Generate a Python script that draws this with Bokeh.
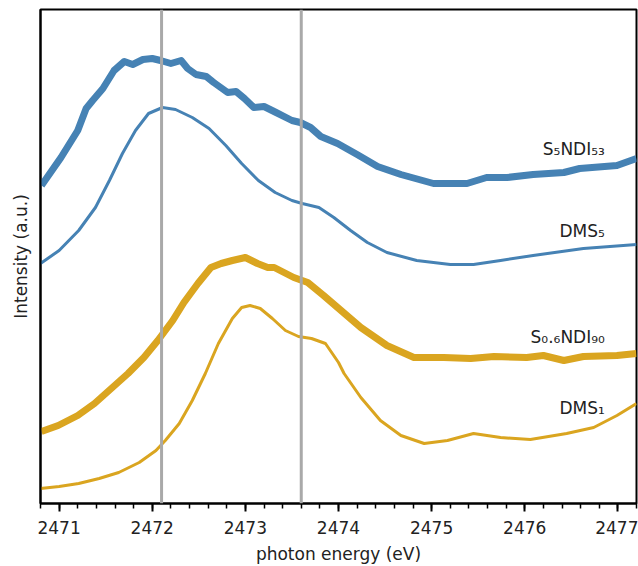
from bokeh.plotting import figure
from bokeh.models import Range1d, SingleIntervalTicker, Span, Label
from bokeh.embed import file_html
from bokeh.resources import INLINE

# photon energy (eV) and intensity (a.u., offset curves)
s5ndi53_x = [2470.81, 2471.02, 2471.20, 2471.29, 2471.36, 2471.47, 2471.59, 2471.70, 2471.79, 2471.90,
             2472.00, 2472.09, 2472.20, 2472.31, 2472.38, 2472.47, 2472.58, 2472.66, 2472.81, 2472.90,
             2472.99, 2473.09, 2473.20, 2473.33, 2473.50, 2473.59, 2473.70, 2473.81, 2473.99, 2474.20,
             2474.42, 2474.67, 2475.02, 2475.38, 2475.59, 2475.81, 2476.09, 2476.42, 2476.59, 2476.99, 2477.20]
s5ndi53_y = [3.18, 3.46, 3.73, 3.95, 4.03, 4.15, 4.33, 4.42, 4.39, 4.44,
             4.45, 4.43, 4.40, 4.43, 4.35, 4.29, 4.27, 4.21, 4.11, 4.12,
             4.05, 3.96, 3.97, 3.91, 3.83, 3.81, 3.76, 3.67, 3.60, 3.49,
             3.37, 3.29, 3.20, 3.20, 3.26, 3.26, 3.29, 3.31, 3.35, 3.38, 3.45]

dms5_x = [2470.80, 2471.00, 2471.21, 2471.39, 2471.54, 2471.68, 2471.82, 2471.96, 2472.11, 2472.25,
          2472.43, 2472.61, 2472.79, 2472.96, 2473.14, 2473.32, 2473.50, 2473.61, 2473.79, 2473.95,
          2474.13, 2474.31, 2474.52, 2474.84, 2475.20, 2475.45, 2475.74, 2476.09, 2476.63, 2477.20]
dms5_y = [2.40, 2.53, 2.73, 2.96, 3.23, 3.50, 3.73, 3.90, 3.96, 3.94,
          3.86, 3.75, 3.58, 3.40, 3.23, 3.11, 3.03, 3.00, 2.96, 2.86,
          2.73, 2.61, 2.51, 2.43, 2.39, 2.39, 2.43, 2.48, 2.55, 2.59]

s06ndi90_x = [2470.81, 2470.99, 2471.20, 2471.38, 2471.56, 2471.74, 2471.91, 2472.06, 2472.22, 2472.34,
              2472.49, 2472.63, 2472.74, 2472.86, 2473.00, 2473.13, 2473.24, 2473.31, 2473.52, 2473.67,
              2473.84, 2473.99, 2474.24, 2474.52, 2474.81, 2475.13, 2475.42, 2475.67, 2476.02, 2476.20,
              2476.42, 2476.63, 2476.99, 2477.20]
s06ndi90_y = [0.72, 0.78, 0.88, 1.00, 1.15, 1.30, 1.46, 1.63, 1.83, 2.01,
              2.20, 2.36, 2.40, 2.43, 2.46, 2.40, 2.36, 2.36, 2.26, 2.21,
              2.08, 1.96, 1.76, 1.58, 1.46, 1.46, 1.45, 1.47, 1.46, 1.48,
              1.43, 1.47, 1.48, 1.50]

dms1_x = [2470.80, 2471.00, 2471.21, 2471.43, 2471.64, 2471.86, 2472.04, 2472.14, 2472.29, 2472.43,
          2472.57, 2472.71, 2472.86, 2472.96, 2473.05, 2473.16, 2473.29, 2473.43, 2473.57, 2473.71,
          2473.86, 2474.00, 2474.06, 2474.24, 2474.45, 2474.67, 2474.92, 2475.17, 2475.45, 2475.74,
          2476.06, 2476.45, 2476.74, 2476.99, 2477.20]
dms1_y = [0.15, 0.17, 0.20, 0.25, 0.31, 0.41, 0.53, 0.63, 0.80, 1.03,
          1.30, 1.60, 1.85, 1.96, 1.98, 1.95, 1.85, 1.73, 1.67, 1.65,
          1.60, 1.41, 1.30, 1.06, 0.83, 0.68, 0.60, 0.63, 0.70, 0.66,
          0.64, 0.70, 0.76, 0.88, 1.00]

marker_energies = [2472.1, 2473.6]

label_texts = ["S\u2085NDI\u2085\u2083", "DMS\u2085", "S\u2080.\u2086NDI\u2089\u2080", "DMS\u2081"]
label_y = [3.55, 2.73, 1.67, 0.96]
label_x = 2476.86

BLUE = "#4682b4"
GOLD = "#daa520"
FONT = "DejaVu Sans"

p = figure(width=638, height=566, output_backend="svg", toolbar_location=None,
           x_range=Range1d(2470.8, 2477.2), y_range=Range1d(0, 4.94),
           min_border_left=40, min_border_top=9, min_border_right=2, min_border_bottom=63)

for e in marker_energies:
    p.add_layout(Span(location=e, dimension="height", line_color="#a9a9a9", line_width=3))

p.line(s5ndi53_x, s5ndi53_y, line_color=BLUE, line_width=7, line_join="round")
p.line(dms5_x, dms5_y, line_color=BLUE, line_width=3, line_join="round")
p.line(s06ndi90_x, s06ndi90_y, line_color=GOLD, line_width=7, line_join="round")
p.line(dms1_x, dms1_y, line_color=GOLD, line_width=3, line_join="round")

for t, y in zip(label_texts, label_y):
    p.add_layout(Label(x=label_x, y=y, text=t, text_align="right", text_baseline="middle",
                       text_font=FONT, text_font_size="17px", text_color="#222222"))

p.grid.visible = False
p.outline_line_color = "black"
p.outline_line_width = 2
p.outline_line_alpha = 1

xa = p.xaxis[0]
xa.ticker = SingleIntervalTicker(interval=1, num_minor_ticks=5)
xa.axis_label = "photon energy (eV)"
xa.axis_label_text_font = FONT
xa.axis_label_text_font_style = "normal"
xa.axis_label_text_font_size = "17px"
xa.axis_label_standoff = 7
xa.major_label_text_font = FONT
xa.major_label_text_font_size = "17px"
xa.major_label_standoff = 9
xa.axis_line_width = 2
xa.major_tick_out = 8
xa.major_tick_in = 0
xa.minor_tick_out = 5
xa.minor_tick_in = 0
xa.major_tick_line_width = 2
xa.minor_tick_line_width = 1.5
xa.axis_line_color = "black"
xa.major_label_text_color = "#222222"
xa.axis_label_text_color = "#222222"

ya = p.yaxis[0]
ya.ticker = []
ya.major_tick_line_color = None
ya.minor_tick_line_color = None
ya.major_label_text_font_size = "0px"
ya.axis_label = "Intensity (a.u.)"
ya.axis_label_text_font = FONT
ya.axis_label_text_font_style = "normal"
ya.axis_label_text_font_size = "17px"
ya.axis_label_standoff = 10
ya.axis_line_width = 2
ya.axis_label_text_color = "#222222"

open("out.html", "w").write(file_html(p, INLINE))
